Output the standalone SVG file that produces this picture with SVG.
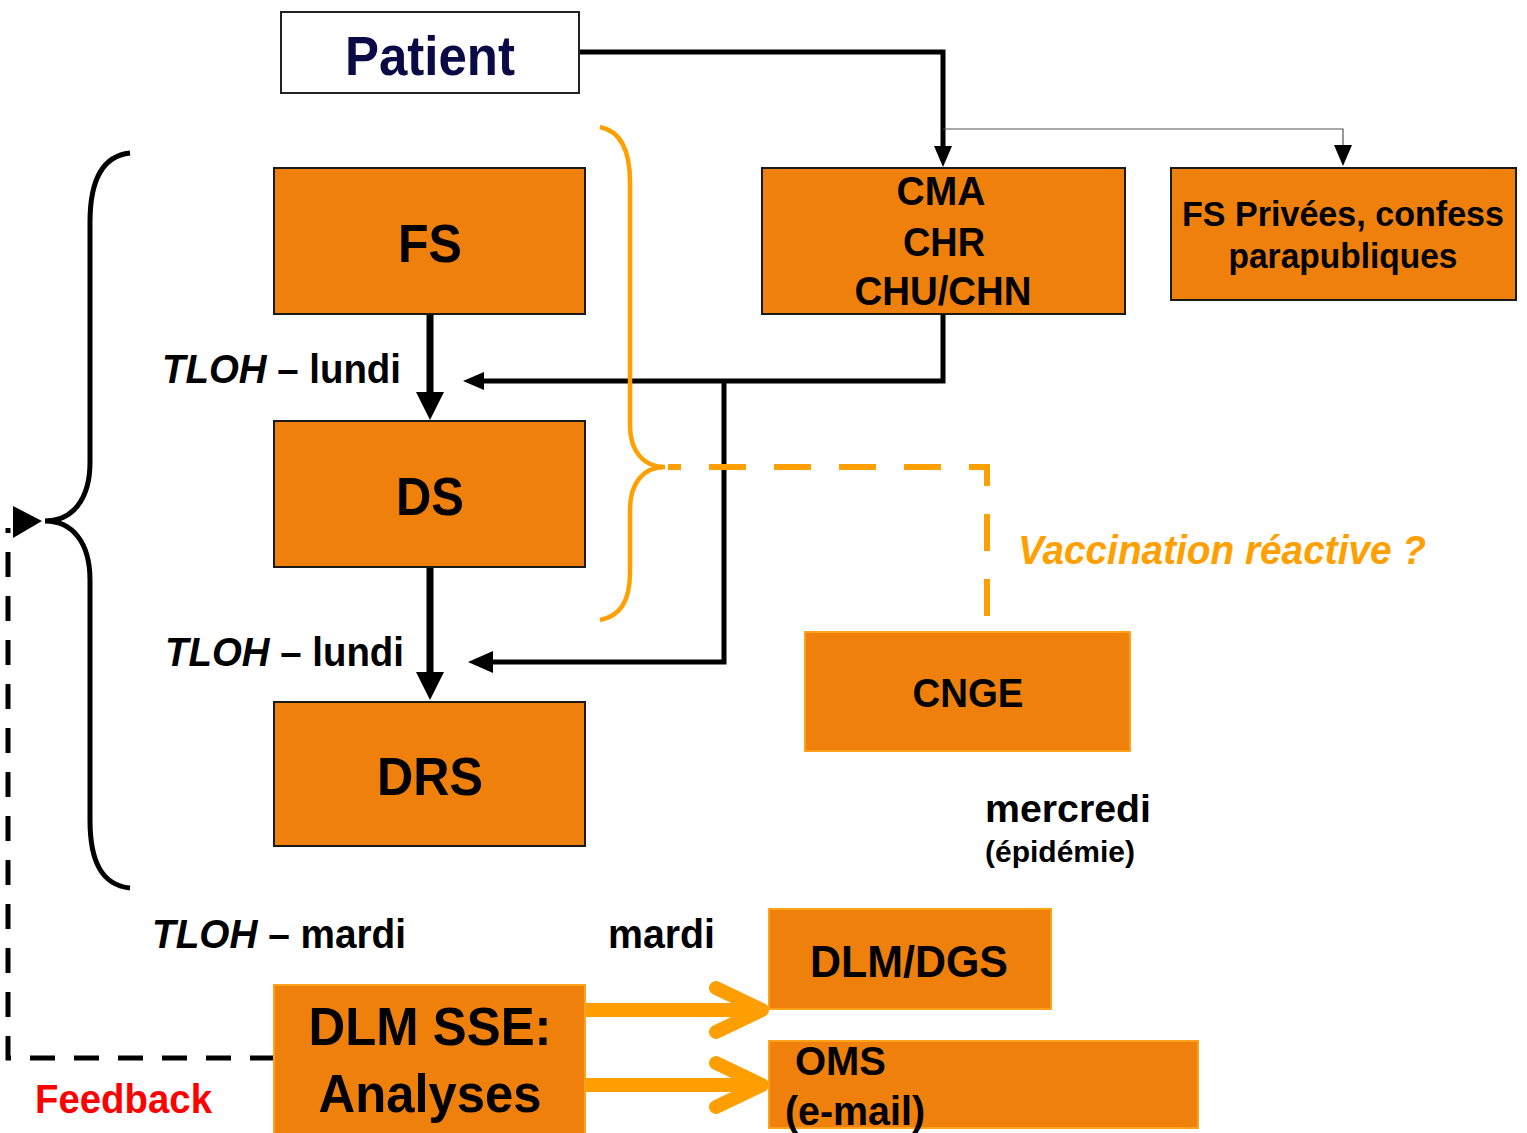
<svg xmlns="http://www.w3.org/2000/svg" width="1527" height="1133" viewBox="0 0 1527 1133">
<style>
.box{fill:#EF800B;stroke:#1a1a1a;stroke-width:2}
.boxo{fill:#EF800B;stroke:#FFA21A;stroke-width:2}
.t{font-family:"Liberation Sans",Arial,sans-serif;font-weight:bold;fill:#000}
.c{text-anchor:middle}
.blk{fill:none;stroke:#000;stroke-linejoin:miter}
.oar{fill:none;stroke:#FF9E00;stroke-linecap:round;stroke-linejoin:round}
</style>
<rect width="1527" height="1133" fill="#fff"/>
<g id="connectors">
  <path class="blk" d="M579,52 H943 V148" stroke-width="5"/>
  <polygon points="934,146 952,146 943,167" fill="#000"/>
  <path d="M943,129 H1343 V147" fill="none" stroke="#555" stroke-width="1.2"/>
  <polygon points="1334,145 1352,145 1343,166" fill="#000"/>
  <path class="blk" d="M430,314 V395" stroke-width="7"/>
  <polygon points="416,392 444,392 430,420" fill="#000"/>
  <path class="blk" d="M430,567 V675" stroke-width="7"/>
  <polygon points="416,672 444,672 430,700" fill="#000"/>
  <path class="blk" d="M943,314 V381 H480" stroke-width="5"/>
  <polygon points="484,372 484,390 463,381" fill="#000"/>
  <path class="blk" d="M724,381 V662 H488" stroke-width="5"/>
  <polygon points="493,651 493,673 468,662" fill="#000"/>
  <path d="M130,153 C102,156 90,180 90,222 L90,462 C90,500 72,521 45,521 C72,521 90,542 90,580 L90,820 C90,862 102,885 130,888" fill="none" stroke="#000" stroke-width="5"/>
  <path d="M600,127 C620,131 630,150 630,182 L630,425 C630,452 644,467 665,467 C644,467 630,482 630,510 L630,572 C630,602 620,616 600,620" fill="none" stroke="#FFA000" stroke-width="4.5"/>
  <path d="M668,467 H987 V625" fill="none" stroke="#FFA000" stroke-width="6" stroke-dasharray="37 28" stroke-dashoffset="24"/>
  <path d="M275,1058 H8 V528" fill="none" stroke="#000" stroke-width="5" stroke-dasharray="25 19"/>
  <polygon points="13,506 42,521 13,538" fill="#000"/>
  <path class="oar" d="M586,1010 H760 M716,988 L762,1010 L716,1032" stroke-width="14"/>
  <path class="oar" d="M586,1085 H760 M716,1063 L762,1085 L716,1107" stroke-width="14"/>
</g>
<g id="patient">
  <rect x="281" y="12" width="298" height="81" fill="#fff" stroke="#222" stroke-width="2"/>
  <text class="t c" x="430" y="75" font-size="56" fill="#0A0A46" style="fill:#0A0A46" textLength="170" lengthAdjust="spacingAndGlyphs">Patient</text>
</g>
<g id="fs">
  <rect class="box" x="274" y="168" width="311" height="146"/>
  <text class="t c" x="430" y="262" font-size="54" textLength="64" lengthAdjust="spacingAndGlyphs">FS</text>
</g>
<g id="cma">
  <rect class="box" x="762" y="168" width="363" height="146"/>
  <text class="t c" x="941" y="205" font-size="40" textLength="89" lengthAdjust="spacingAndGlyphs">CMA</text>
  <text class="t c" x="944" y="256" font-size="40" textLength="82" lengthAdjust="spacingAndGlyphs">CHR</text>
  <text class="t c" x="943" y="305" font-size="40" textLength="177" lengthAdjust="spacingAndGlyphs">CHU/CHN</text>
</g>
<g id="fsprivees">
  <rect class="box" x="1171" y="168" width="345" height="132"/>
  <text class="t c" x="1343" y="226" font-size="35" textLength="322" lengthAdjust="spacingAndGlyphs">FS Privées, confess</text>
  <text class="t c" x="1343" y="268" font-size="35" textLength="229" lengthAdjust="spacingAndGlyphs">parapubliques</text>
</g>
<g id="ds">
  <rect class="box" x="274" y="421" width="311" height="146"/>
  <text class="t c" x="430" y="515" font-size="54" textLength="68" lengthAdjust="spacingAndGlyphs">DS</text>
</g>
<g id="drs">
  <rect class="box" x="274" y="702" width="311" height="144"/>
  <text class="t c" x="430" y="795" font-size="54" textLength="106" lengthAdjust="spacingAndGlyphs">DRS</text>
</g>
<g id="cnge">
  <rect class="boxo" x="805" y="632" width="325" height="119"/>
  <text class="t c" x="968" y="707" font-size="40" textLength="111" lengthAdjust="spacingAndGlyphs">CNGE</text>
</g>
<g id="dlmdgs">
  <rect class="boxo" x="769" y="909" width="282" height="100"/>
  <text class="t c" x="909" y="977" font-size="44" textLength="198" lengthAdjust="spacingAndGlyphs">DLM/DGS</text>
</g>
<g id="oms">
  <rect class="boxo" x="769" y="1041" width="429" height="87"/>
  <text class="t" x="795" y="1075" font-size="40" textLength="91" lengthAdjust="spacingAndGlyphs">OMS</text>
  <text class="t" x="785" y="1125" font-size="40" font-weight="normal" style="font-weight:bold" textLength="140" lengthAdjust="spacingAndGlyphs">(e-mail)</text>
</g>
<g id="dlmsse">
  <rect class="boxo" x="274" y="985" width="311" height="150"/>
  <text class="t c" x="430" y="1045" font-size="54" textLength="243" lengthAdjust="spacingAndGlyphs">DLM SSE:</text>
  <text class="t c" x="430" y="1112" font-size="54" textLength="223" lengthAdjust="spacingAndGlyphs">Analyses</text>
</g>
<g id="labels">
  <text class="t" x="162" y="383" font-size="41" textLength="239" lengthAdjust="spacingAndGlyphs"><tspan font-style="italic">TLOH</tspan> – lundi</text>
  <text class="t" x="165" y="666" font-size="41" textLength="239" lengthAdjust="spacingAndGlyphs"><tspan font-style="italic">TLOH</tspan> – lundi</text>
  <text class="t" x="152" y="948" font-size="41" textLength="254" lengthAdjust="spacingAndGlyphs"><tspan font-style="italic">TLOH</tspan> – mardi</text>
  <text class="t" x="608" y="948" font-size="41" textLength="107" lengthAdjust="spacingAndGlyphs">mardi</text>
  <text class="t" x="985" y="822" font-size="38" textLength="166" lengthAdjust="spacingAndGlyphs">mercredi</text>
  <text class="t" x="985" y="862" font-size="29" textLength="150" lengthAdjust="spacingAndGlyphs">(épidémie)</text>
  <text class="t" x="1018" y="564" font-size="40" font-style="italic" style="fill:#FFA000" textLength="408" lengthAdjust="spacingAndGlyphs">Vaccination réactive ?</text>
  <text class="t" x="35" y="1113" font-size="40" style="fill:#FF0000" textLength="177" lengthAdjust="spacingAndGlyphs">Feedback</text>
</g>
</svg>
